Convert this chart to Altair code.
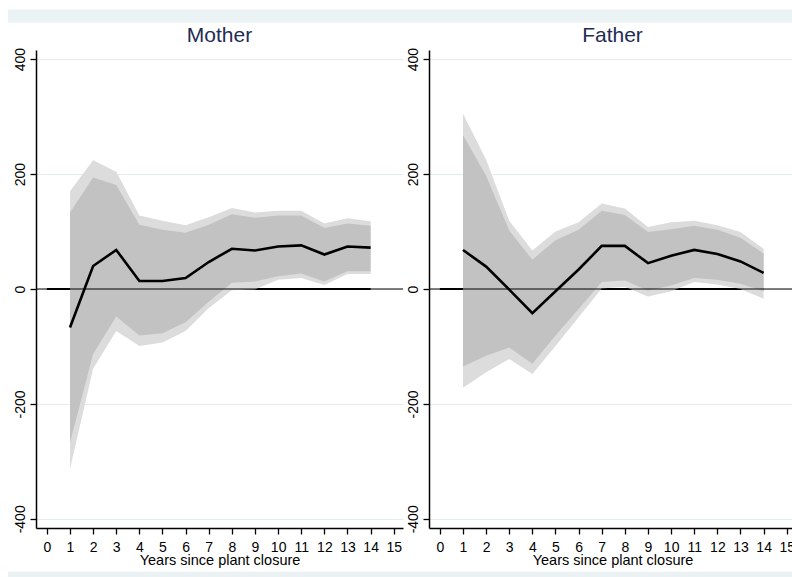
import altair as alt
import pandas as pd

# ---------------- data ----------------
years = list(range(1, 15))
zero_years = list(range(0, 15))
x_ticks = list(range(0, 16))
y_ticks = [-400, -200, 0, 200, 400]
panel_titles = ["Mother", "Father"]

mother_est = [-67, 40, 68, 14, 14, 19, 47, 70, 67, 74, 76, 60, 74, 72]
mother_hi90 = [133, 194, 181, 112, 103, 98, 112, 130, 124, 128, 128, 106, 114, 110]
mother_lo90 = [-267, -113, -48, -81, -77, -58, -22, 11, 13, 22, 27, 13, 31, 31]
mother_hi95 = [170, 224, 204, 128, 119, 111, 125, 141, 133, 136, 136, 114, 123, 118]
mother_lo95 = [-313, -139, -73, -99, -93, -73, -33, -2, -1, 16, 19, 7, 26, 26]

father_est = [68, 39, -1, -42, -4, 34, 75, 75, 45, 58, 68, 61, 48, 28]
father_hi90 = [268, 197, 102, 51, 85, 103, 136, 129, 99, 104, 110, 103, 89, 62]
father_lo90 = [-135, -116, -102, -130, -81, -35, 12, 15, -3, 6, 19, 16, 9, -4]
father_hi95 = [305, 225, 119, 67, 100, 116, 149, 140, 108, 116, 119, 111, 99, 70]
father_lo95 = [-172, -145, -122, -148, -99, -49, 1, 4, -13, -4, 12, 8, 0, -17]

# ---------------- styling ----------------
FONT = "Liberation Sans"
W, H = 367, 478
STRIP = "#EAF2F3"
INNER = "#C2C2C2"
OUTER = "#DCDCDC"
NAVY = "#1F2C56"

xsc = alt.Scale(domain=[-0.47, 15.4], nice=False, zero=False)
ysc = alt.Scale(domain=[-416, 416], nice=False, zero=False)

x_axis = alt.Axis(
    values=x_ticks, title="Years since plant closure", grid=False,
    tickSize=6, tickColor="black", tickWidth=1.3,
    domainColor="black", domainWidth=1.5,
    labelFontSize=14, labelColor="black", labelFont=FONT,
    labelPadding=17.7, labelBaseline="alphabetic",
    labelFlush=False, labelOverlap=False,
    titleFontSize=14.5, titleFontWeight="normal", titleColor="black",
    titleFont=FONT, titleBaseline="alphabetic", titleY=36,
)
y_axis = alt.Axis(
    values=y_ticks, title=None, grid=True, gridColor="#E3ECEE", gridWidth=1,
    tickSize=6, tickColor="black", tickWidth=1.3,
    domainColor="black", domainWidth=1.5,
    labelFontSize=14, labelColor="black", labelFont=FONT,
    labelAngle=270, labelAlign="center", labelBaseline="alphabetic",
    labelPadding=6, labelFlush=False, labelOverlap=False,
    labelExpr="'' + datum.value",
)


def X(field):
    return alt.X(field, scale=xsc, axis=x_axis)


def Y(field):
    return alt.Y(field, scale=ysc, axis=y_axis)


def panel(title, est, lo90, hi90, lo95, hi95, strips=False):
    df = pd.DataFrame({"year": years, "est": est, "lo90": lo90, "hi90": hi90,
                       "lo95": lo95, "hi95": hi95})
    zdf = pd.DataFrame({"year": zero_years, "zero": [0] * len(zero_years)})
    one = pd.DataFrame({"t": [title]})

    layers = []
    zero_line = alt.Chart(zdf).mark_line(color="black", strokeWidth=2).encode(
        x=X("year:Q"), y=Y("zero:Q"))
    outer = alt.Chart(df).mark_area(color=OUTER, opacity=1).encode(
        x=X("year:Q"), y=Y("lo95:Q"), y2="hi95:Q")
    inner = alt.Chart(df).mark_area(color=INNER, opacity=1).encode(
        x=X("year:Q"), y=Y("lo90:Q"), y2="hi90:Q")
    yline = alt.Chart(pd.DataFrame({"v": [0]})).mark_rule(
        color="black", strokeWidth=1).encode(y=Y("v:Q"))
    line = alt.Chart(df).mark_line(color="black", strokeWidth=2.6).encode(
        x=X("year:Q"), y=Y("est:Q"))
    ttl = alt.Chart(one).mark_text(
        font=FONT, fontSize=21, color=NAVY, align="center",
        baseline="alphabetic").encode(
        text="t:N", x=alt.value(W / 2), y=alt.value(-7.7))
    layers += [zero_line, outer, inner, yline, line, ttl]
    if strips:
        layers.append(
            alt.Chart(one).mark_rect(fill=STRIP).encode(
                x=alt.value(-28), x2=alt.value(756),
                y=alt.value(-40.5), y2=alt.value(-27.3))
        )
        layers.append(
            alt.Chart(one).mark_rect(fill=STRIP).encode(
                x=alt.value(-28), x2=alt.value(756),
                y=alt.value(521.7), y2=alt.value(535))
        )
    return alt.layer(*layers).properties(width=W, height=H)


left = panel(panel_titles[0], mother_est, mother_lo90, mother_hi90,
             mother_lo95, mother_hi95, strips=True)
right = panel(panel_titles[1], father_est, father_lo90, father_hi90,
              father_lo95, father_hi95)

chart = (
    alt.hconcat(left, right, spacing=26, bounds="flush")
    .properties(
        autosize=alt.AutoSizeParams(type="none"),
        padding={"left": 36, "top": 50, "right": 756, "bottom": 527},
    )
    .configure(background="white", font=FONT)
    .configure_view(stroke=None)
)

chart.save("out.html", embed_options={"renderer": "svg", "actions": False})
